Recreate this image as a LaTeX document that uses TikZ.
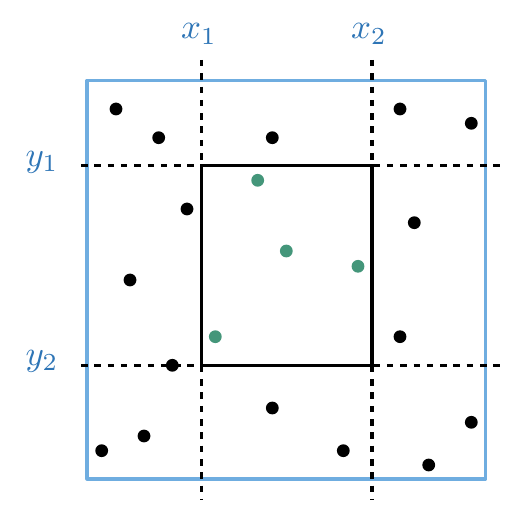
\documentclass[tikz,border=0pt]{standalone}
\usepackage{graphicx}
\usepackage{tikz}
\definecolor{lblblue}{RGB}{46,117,182}
\definecolor{rectblue}{RGB}{111,173,224}
\definecolor{ptgreen}{RGB}{68,150,122}
\newcommand{\biglbl}[1]{\scalebox{3.5}{#1}}
\begin{document}
\begin{tikzpicture}[x=1pt,y=-1pt,
  dashline/.style={line width=3.5pt,dash pattern=on 6.5pt off 6.8pt},
  solidline/.style={line width=3.3pt,line cap=rect},
  outerbox/.style={draw=rectblue,line width=3.2pt,line join=round},
  blackpt/.style={circle,fill=black,inner sep=0pt,minimum size=12.8pt},
  greenpt/.style={circle,fill=ptgreen,inner sep=0pt,minimum size=12.8pt},
  lbl/.style={text=lblblue,inner sep=0pt}]
\useasboundingbox (0,0) rectangle (530,526);
% outer box
\draw[outerbox] (87,80.5) rectangle (485.5,479);
% dashed lines
\coordinate (v1t) at (201.5,60); \coordinate (v1b) at (201.5,500);
\coordinate (v2t) at (372,60); \coordinate (v2b) at (372,500);
\coordinate (h1l) at (81,165.7); \coordinate (h1r) at (501,165.7);
\coordinate (h2l) at (81,365.3); \coordinate (h2r) at (501,365.3);
\draw[dashline] (v1t) -- (v1b);
\draw[dashline] (v2t) -- (v2b);
\draw[dashline] (h1l) -- (h1r);
\draw[dashline] (h2l) -- (h2r);
% inner square
\draw[solidline] (201.5,165.7) rectangle (372,365.3);
% labels
\node[lbl] (x1) at (199,34) {\biglbl{$x_1$}};
\node[lbl] (x2) at (369,34) {\biglbl{$x_2$}};
\node[lbl] (y1) at (42,162) {\biglbl{$y_1$}};
\node[lbl] (y2) at (42,361) {\biglbl{$y_2$}};
% black points
\foreach \n/\px/\py in {a/116/109, b/158.7/137.7, c/272.3/137.7, d/400/109, e/471.3/123.3,
  f/187/209, g/414.3/222.7, h/130/280, i/400/336.7, j/172.3/365.3, k/272.3/408,
  l/144/436, m/101.7/450.7, n/343.3/450.7, o/428.7/465, p/471.3/422.3}
  \node[blackpt] (\n) at (\px,\py) {};
% green points
\foreach \n/\px/\py in {g1/257.7/180.3, g2/286.3/251, g3/358/266.3, g4/215.3/336.7}
  \node[greenpt] (\n) at (\px,\py) {};
\end{tikzpicture}
\end{document}
